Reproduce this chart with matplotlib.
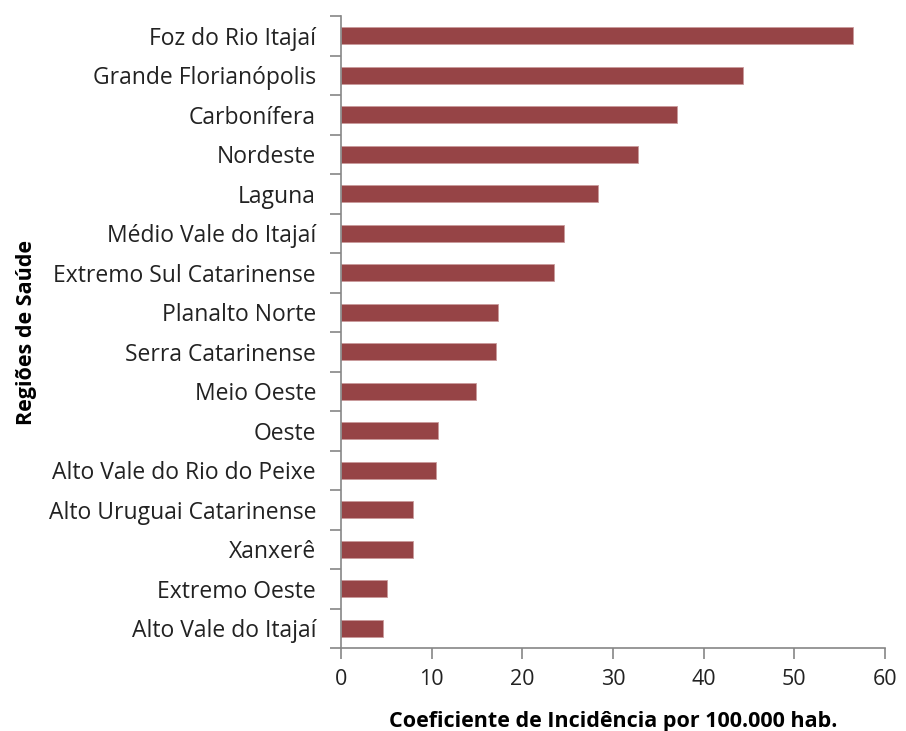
import matplotlib.pyplot as plt
import numpy as np

regioes = ["Foz do Rio Itajaí", "Grande Florianópolis", "Carbonífera", "Nordeste",
           "Laguna", "Médio Vale do Itajaí", "Extremo Sul Catarinense", "Planalto Norte",
           "Serra Catarinense", "Meio Oeste", "Oeste", "Alto Vale do Rio do Peixe",
           "Alto Uruguai Catarinense", "Xanxerê", "Extremo Oeste", "Alto Vale do Itajaí"]
coeficiente = [56.5, 44.3, 37.1, 32.8, 28.3, 24.6, 23.5, 17.3,
               17.1, 14.9, 10.7, 10.5, 7.9, 7.9, 5.1, 4.6]
xticks = [0, 10, 20, 30, 40, 50, 60]

plt.rcParams['font.family'] = ['Open Sans', 'DejaVu Sans']

fig = plt.figure(figsize=(9.06, 7.31), dpi=100)
ax = fig.add_axes([0.3764, 0.1135, 0.6004, 0.8646])

y = np.arange(len(regioes))
ax.barh(y, coeficiente, height=0.43, color='#964446', edgecolor='#c99a9b', linewidth=0.6)
ax.set_ylim(len(regioes) - 0.5, -0.5)
ax.set_xlim(0, 60)

ax.set_yticks(y)
ax.set_yticklabels(regioes, fontsize=16.5, color='#222222')
ax.set_yticks(np.arange(-0.5, len(regioes)), minor=True)
ax.tick_params(axis='y', which='major', length=0, pad=18)
ax.tick_params(axis='y', which='minor', length=8, color='#868686', width=1.2)

ax.set_xticks(xticks)
ax.set_xticklabels([str(t) for t in xticks], fontsize=15.5, color='#222222')
ax.tick_params(axis='x', length=8, color='#868686', width=1.2, pad=7)

for s in ['top', 'right']:
    ax.spines[s].set_visible(False)
for s in ['left', 'bottom']:
    ax.spines[s].set_color('#868686')
    ax.spines[s].set_linewidth(1.2)

ax.set_xlabel('Coeficiente de Incidência por 100.000 hab.', fontsize=15.5, fontweight='bold', labelpad=15)
ax.set_ylabel('Regiões de Saúde', fontsize=15.5, fontweight='bold', labelpad=8)

fig.savefig('out.png', dpi=100)
